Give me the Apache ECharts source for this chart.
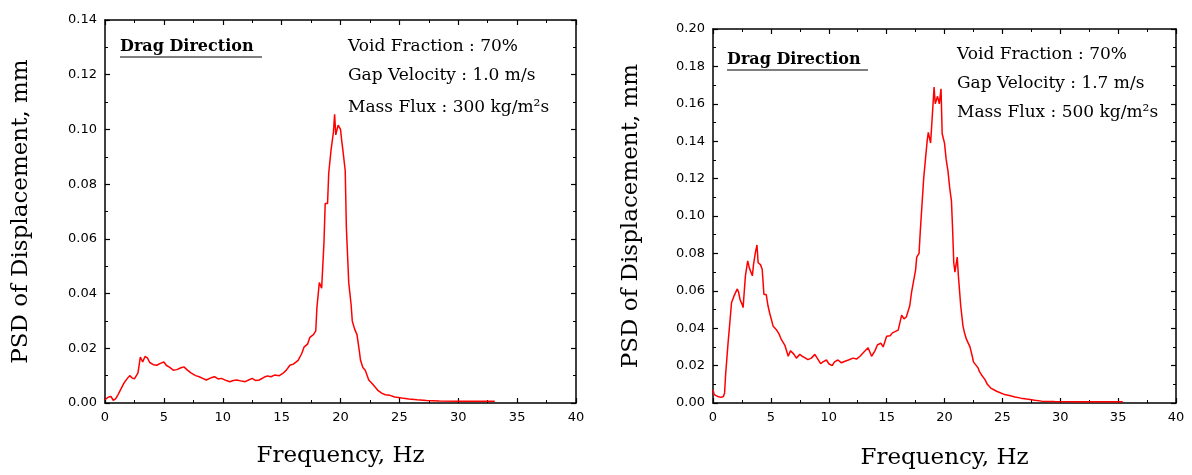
<!DOCTYPE html>
<html>
<head>
<meta charset="utf-8">
<title>PSD of Displacement</title>
<script src="https://cdn.jsdelivr.net/npm/echarts@6/dist/echarts.min.js"></script>
<style>
  html, body { margin: 0; padding: 0; background: #fff; }
  #chart { width: 1192px; height: 475px; }
</style>
</head>
<body>
<div id="chart"></div>
<script>
// Case A: gap velocity 1.0 m/s, mass flux 300 kg/m2s
const freqA = [0.0,0.3,0.5,0.7,0.9,1.1,1.4,1.6,1.9,2.1,2.3,2.5,2.8,3.0,3.2,3.4,3.6,3.8,4.1,4.4,4.7,5.0,5.2,5.5,5.8,6.1,6.4,6.7,7.0,7.3,7.7,8.0,8.3,8.6,9.0,9.3,9.6,9.9,10.3,10.6,10.9,11.2,11.6,11.9,12.2,12.5,12.8,13.1,13.5,13.8,14.1,14.4,14.8,15.1,15.4,15.7,16.0,16.4,16.7,16.9,17.2,17.4,17.7,17.9,18.0,18.2,18.4,18.6,18.7,18.9,19.0,19.2,19.4,19.5,19.6,19.7,19.8,20.0,20.1,20.2,20.4,20.5,20.6,20.7,20.9,21.0,21.2,21.4,21.6,21.7,21.9,22.1,22.4,22.7,22.9,23.2,23.5,23.8,24.2,24.6,25.2,25.8,26.5,27.3,28.4,30.0,31.5,33.1];
const psdA = [0.0012,0.0022,0.0024,0.0010,0.0015,0.0030,0.0055,0.0072,0.0090,0.0100,0.0092,0.0088,0.0110,0.0168,0.0150,0.0170,0.0165,0.0148,0.0140,0.0138,0.0145,0.0150,0.0138,0.0130,0.0120,0.0122,0.0128,0.0132,0.0120,0.0110,0.0100,0.0096,0.0090,0.0084,0.0092,0.0096,0.0088,0.0090,0.0082,0.0078,0.0082,0.0084,0.0080,0.0078,0.0084,0.0090,0.0082,0.0084,0.0094,0.0099,0.0096,0.0102,0.0100,0.0108,0.0120,0.0138,0.0142,0.0156,0.0180,0.0204,0.0215,0.0240,0.0250,0.0264,0.0350,0.0440,0.0420,0.0590,0.0729,0.0729,0.0840,0.0926,0.0990,0.1055,0.0980,0.0985,0.1016,0.1000,0.0960,0.0925,0.0850,0.0640,0.0540,0.0440,0.0360,0.0300,0.0270,0.0250,0.0190,0.0156,0.0130,0.0120,0.0084,0.0070,0.0060,0.0045,0.0036,0.0030,0.0028,0.0022,0.0018,0.0015,0.0012,0.0009,0.0007,0.0006,0.0006,0.0006];

// Case B: gap velocity 1.7 m/s, mass flux 500 kg/m2s
const freqB = [0.0,0.1,0.4,0.7,0.9,1.0,1.1,1.3,1.4,1.6,1.8,1.9,2.1,2.2,2.35,2.5,2.6,2.8,3.0,3.15,3.3,3.4,3.5,3.65,3.8,3.9,4.1,4.25,4.4,4.6,4.75,4.9,5.2,5.5,5.7,5.9,6.2,6.5,6.7,6.8,7.0,7.2,7.5,7.7,8.0,8.2,8.5,8.8,9.0,9.3,9.5,9.8,10.0,10.3,10.5,10.8,11.1,11.4,11.7,12.1,12.4,12.7,13.0,13.4,13.7,14.0,14.2,14.5,14.7,15.0,15.3,15.5,16.0,16.3,16.5,16.7,17.0,17.15,17.3,17.5,17.6,17.8,17.9,18.05,18.2,18.35,18.5,18.6,18.8,18.95,19.1,19.2,19.3,19.4,19.55,19.7,19.8,20.0,20.15,20.3,20.45,20.6,20.7,20.8,20.9,21.0,21.1,21.2,21.4,21.6,21.75,21.9,22.2,22.4,22.5,22.9,23.0,23.2,23.5,23.7,24.0,24.5,25.2,25.6,26.1,26.6,27.1,27.8,28.4,29.5,31.4,33.5,35.4];
const psdB = [0.0071,0.0045,0.0035,0.0030,0.0035,0.0054,0.0160,0.0320,0.0390,0.0536,0.0570,0.0580,0.0610,0.0595,0.0550,0.0530,0.0510,0.0680,0.0760,0.0720,0.0730,0.0680,0.0740,0.0800,0.0845,0.0750,0.0740,0.0715,0.0580,0.0580,0.0520,0.0480,0.0410,0.0390,0.0370,0.0340,0.0310,0.0250,0.0280,0.0285,0.0260,0.0240,0.0260,0.0250,0.0240,0.0232,0.0240,0.0260,0.0240,0.0210,0.0220,0.0230,0.0210,0.0200,0.0220,0.0230,0.0215,0.0223,0.0230,0.0240,0.0235,0.0250,0.0270,0.0295,0.0250,0.0280,0.0310,0.0320,0.0300,0.0357,0.0360,0.0375,0.0390,0.0470,0.0450,0.0460,0.0520,0.0590,0.0600,0.0710,0.0780,0.0800,0.0910,0.1055,0.1200,0.1300,0.1400,0.1447,0.1390,0.1540,0.1690,0.1600,0.1620,0.1640,0.1600,0.1680,0.1440,0.1390,0.1300,0.1240,0.1150,0.1080,0.0930,0.0750,0.0700,0.0740,0.0780,0.0680,0.0520,0.0410,0.0370,0.0340,0.0300,0.0250,0.0220,0.0188,0.0170,0.0150,0.0125,0.0100,0.0080,0.0063,0.0045,0.0040,0.0032,0.0026,0.0021,0.0015,0.0010,0.0008,0.0007,0.0007,0.0007];

// Axis ranges
const xRange = { min: 0, max: 40, interval: 5 };
const yRangeA = { min: 0, max: 0.14, interval: 0.02 };
const yRangeB = { min: 0, max: 0.20, interval: 0.02 };

// Annotation texts
const headingText = 'Drag Direction';
const infoA = ['Void Fraction : 70%', 'Gap Velocity : 1.0 m/s', 'Mass Flux : 300 kg/m\u00b2s'];
const infoB = ['Void Fraction : 70%', 'Gap Velocity : 1.7 m/s', 'Mass Flux : 500 kg/m\u00b2s'];
const xTitle = 'Frequency, Hz';
const yTitle = 'PSD of Displacement, mm';

const serif = '"DejaVu Serif", "Liberation Serif", serif';
const sans = '"DejaVu Sans", "Liberation Sans", sans-serif';

const lineBase = { show: true, onZero: false, lineStyle: { color: '#000', width: 1.5 } };
const tickBase = { show: true, inside: true, length: 5, lineStyle: { color: '#000', width: 1.2 } };
const minorBase = { show: true, splitNumber: 2, length: 3, lineStyle: { color: '#000', width: 1 } };

function xAxes(gridIndex, nameGap) {
  return [
    {
      type: 'value', gridIndex, position: 'bottom', ...xRange,
      axisLine: lineBase, axisTick: tickBase, minorTick: minorBase,
      splitLine: { show: false },
      axisLabel: { color: '#000', fontFamily: sans, fontSize: 13, margin: 8, formatter: v => String(v) },
      name: xTitle, nameLocation: 'middle', nameGap,
      nameTextStyle: { color: '#000', fontFamily: serif, fontSize: 23 }
    },
    {
      type: 'value', gridIndex, position: 'top', ...xRange,
      axisLine: lineBase, axisTick: tickBase, minorTick: minorBase,
      splitLine: { show: false }, axisLabel: { show: false }
    }
  ];
}

function yAxes(gridIndex, range, nameGap) {
  return [
    {
      type: 'value', gridIndex, position: 'left', ...range,
      axisLine: lineBase, axisTick: tickBase, minorTick: minorBase,
      splitLine: { show: false },
      axisLabel: { color: '#000', fontFamily: sans, fontSize: 13, margin: 8, formatter: v => v.toFixed(2) },
      name: yTitle, nameLocation: 'middle', nameGap, nameRotate: 90,
      nameTextStyle: { color: '#000', fontFamily: serif, fontSize: 23 }
    },
    {
      type: 'value', gridIndex, position: 'right', ...range,
      axisLine: lineBase, axisTick: tickBase, minorTick: minorBase,
      splitLine: { show: false }, axisLabel: { show: false }
    }
  ];
}

function pairs(xs, ys) { return xs.map((x, i) => [x, ys[i]]); }

function textEl(text, x, y, size, bold) {
  return {
    type: 'text', x, y, silent: true,
    style: { text, fill: '#000', font: (bold ? 'bold ' : '') + size + 'px ' + serif, verticalAlign: 'middle', align: 'left' }
  };
}

function annotations(hx, hy, hw, ix, iy, info) {
  return [
    textEl(headingText, hx, hy, 16, true),
    { type: 'line', silent: true, shape: { x1: hx, y1: hy + 10, x2: hx + hw, y2: hy + 10 }, style: { stroke: '#000', lineWidth: 1.2 } },
    textEl(info[0], ix, iy[0], 17, false),
    textEl(info[1], ix, iy[1], 17, false),
    textEl(info[2], ix, iy[2], 17, false)
  ];
}

const chart = echarts.init(document.getElementById('chart'), null, { renderer: 'canvas' });
chart.setOption({
  animation: false,
  backgroundColor: '#fff',
  grid: [
    { left: 105, top: 20, width: 471, height: 383, containLabel: false },
    { left: 713, top: 29, width: 463, height: 375, containLabel: false }
  ],
  xAxis: [...xAxes(0, 42), ...xAxes(1, 44)],
  yAxis: [...yAxes(0, yRangeA, 72), ...yAxes(1, yRangeB, 70)],
  series: [
    {
      type: 'line', xAxisIndex: 0, yAxisIndex: 0, data: pairs(freqA, psdA),
      showSymbol: false, silent: true, lineStyle: { color: '#ff0000', width: 1.5 }
    },
    {
      type: 'line', xAxisIndex: 2, yAxisIndex: 2, data: pairs(freqB, psdB),
      showSymbol: false, silent: true, lineStyle: { color: '#ff0000', width: 1.5 }
    }
  ],
  graphic: [
    ...annotations(120, 47, 142, 348, [47, 76, 108], infoA),
    ...annotations(727, 60, 141, 957, [55, 84, 113], infoB)
  ]
});
</script>
</body>
</html>
